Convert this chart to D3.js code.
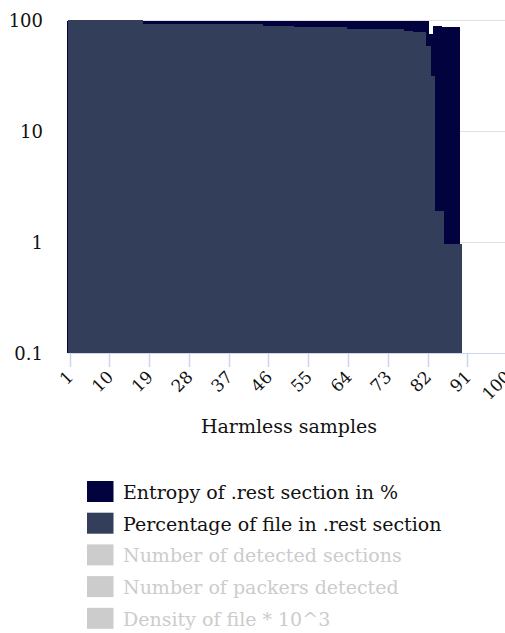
<!DOCTYPE html>
<html>
<head>
<meta charset="utf-8">
<script src="https://cdn.jsdelivr.net/npm/d3@7"></script>
<style>
  html, body { margin: 0; padding: 0; background: #fff; }
  svg { display: block; font-family: "DejaVu Serif", "Liberation Serif", serif; }
</style>
</head>
<body>
<svg id="chart" width="505" height="633"></svg>
<script>
// ---- data ----
const samples = d3.range(1, 101); // categories 1..100
const xTickLabels = [1, 10, 19, 28, 37, 46, 55, 64, 73, 82, 91, 100];
const yTickValues = [0.1, 1, 10, 100];

// Percentage of file in .rest section (samples 1..89)
const percentage = [
  100,100,100,100,100,100,100,100,100,100,100,100,100,100,100,100,100,
  92,92,92,92,92,92,92,92,92,92,92,92,92,92,92,92,92,92,92,92,92,92,92,92,92,92,92,
  88.9,88.9,88.9,88.9,88.9,88.9,88.9,
  87,87,87,87,87,87,87,87,87,87,87,87,
  83,83,83,83,83,83,83,83,83,83,83,83,83,
  80,80,
  77.5,77.5,77.5,
  58,
  31,
  1.9,1.9,
  0.96,0.96,0.96,0.96
];
// Entropy of .rest section in % (samples 1..89)
const entropy = [
  98.5,98.5,98.5,98.5,98.5,98.5,98.5,98.5,98.5,98.5,98.5,98.5,98.5,98.5,98.5,98.5,98.5,
  98.5,98.5,98.5,98.5,98.5,98.5,98.5,98.5,98.5,98.5,98.5,98.5,98.5,98.5,98.5,98.5,98.5,98.5,98.5,98.5,98.5,98.5,98.5,98.5,98.5,98.5,98.5,
  98.5,98.5,98.5,98.5,98.5,98.5,98.5,
  98.5,98.5,98.5,98.5,98.5,98.5,98.5,98.5,98.5,98.5,98.5,98.5,
  98.5,98.5,98.5,98.5,98.5,98.5,98.5,98.5,98.5,98.5,98.5,98.5,98.5,
  98.5,98.5,
  98.5,98.5,98.5,
  98.5,
  75,
  88,88,
  86.5,86.5,86.5,86.5
];

const legendItems = [
  { name: "Entropy of .rest section in %", color: "#02023f", visible: true },
  { name: "Percentage of file in .rest section", color: "#333f5a", visible: true },
  { name: "Number of detected sections", color: "#cccccc", visible: false },
  { name: "Number of packers detected", color: "#cccccc", visible: false },
  { name: "Density of file * 10^3", color: "#cccccc", visible: false }
];

// ---- layout ----
const svg = d3.select("#chart");
const plotLeft = 68, plotRight = 505, plotTop = 20, plotBottom = 353;

const x = d3.scaleBand().domain(samples).range([plotLeft, 510]).padding(0);
const y = d3.scaleLog().domain([0.1, 100]).range([plotBottom, plotTop]);

// gridlines
svg.append("g").selectAll("line")
  .data(yTickValues.filter(v => v > 0.1))
  .join("line")
  .attr("x1", plotLeft).attr("x2", plotRight)
  .attr("y1", d => Math.round(y(d)) + 0.5).attr("y2", d => Math.round(y(d)) + 0.5)
  .attr("stroke", "#e0e0e0").attr("stroke-width", 1);

// entropy bars (behind)
const entData = entropy.map((v, i) => ({ s: samples[i], v }));
svg.append("g").selectAll("rect")
  .data(entData)
  .join("rect")
  .attr("x", d => x(d.s) - 1.5)
  .attr("width", x.bandwidth())
  .attr("y", d => y(d.v))
  .attr("height", d => y(0.1) - y(d.v))
  .attr("fill", legendItems[0].color)
  .attr("shape-rendering", "crispEdges");

// percentage bars (front)
const pctData = percentage.map((v, i) => ({ s: samples[i], v }));
svg.append("g").selectAll("rect")
  .data(pctData)
  .join("rect")
  .attr("x", d => x(d.s))
  .attr("width", x.bandwidth() + 0.3)
  .attr("y", d => y(d.v))
  .attr("height", d => y(0.1) - y(d.v))
  .attr("fill", legendItems[1].color)
  .attr("shape-rendering", "crispEdges");

// y labels
svg.append("g").selectAll("text")
  .data(yTickValues)
  .join("text")
  .attr("x", 43)
  .attr("y", d => y(d) + 6.5)
  .attr("text-anchor", "end")
  .attr("font-size", 18)
  .attr("fill", "#111")
  .text(d => d3.format("~g")(d));

// x axis line
const axisColor = "#ccd6eb";
svg.append("line")
  .attr("x1", plotLeft).attr("x2", plotRight)
  .attr("y1", plotBottom + 0.5).attr("y2", plotBottom + 0.5)
  .attr("stroke", axisColor).attr("stroke-width", 1);

const tickX = d => x(d) + 1.5;
svg.append("g").selectAll("line")
  .data(xTickLabels)
  .join("line")
  .attr("x1", d => Math.round(tickX(d)) + 0.5).attr("x2", d => Math.round(tickX(d)) + 0.5)
  .attr("y1", plotBottom).attr("y2", plotBottom + 14)
  .attr("stroke", axisColor).attr("stroke-width", 1.5);

svg.append("g").selectAll("text")
  .data(xTickLabels)
  .join("text")
  .attr("text-anchor", "end")
  .attr("font-size", 17)
  .attr("fill", "#111")
  .attr("transform", d => `translate(${tickX(d) + 5},${plotBottom + 25}) rotate(-45)`)
  .text(d => d);

// x axis title
svg.append("text")
  .attr("x", 289).attr("y", 433)
  .attr("text-anchor", "middle")
  .attr("font-size", 19)
  .attr("fill", "#111")
  .text("Harmless samples");

// legend
const lg = svg.append("g").selectAll("g")
  .data(legendItems)
  .join("g")
  .attr("transform", (d, i) => `translate(87,${481 + i * 31.7})`);
lg.append("rect")
  .attr("width", 26.5).attr("height", 21)
  .attr("fill", d => d.color);
lg.append("text")
  .attr("x", 36).attr("y", 18)
  .attr("font-size", 19)
  .attr("fill", d => d.visible ? "#111" : "#cccccc")
  .text(d => d.name);
</script>
</body>
</html>
